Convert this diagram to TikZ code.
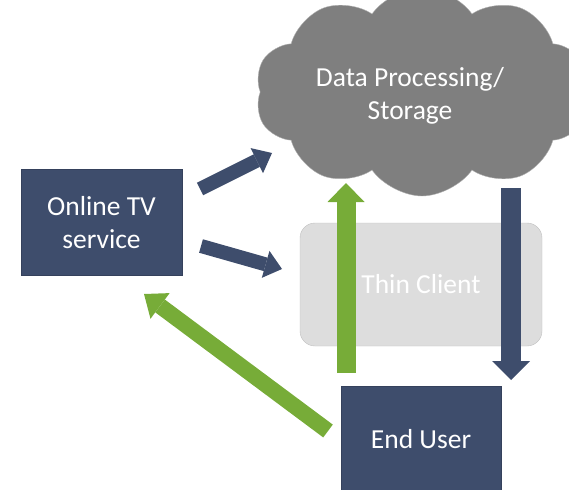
\documentclass[tikz,border=0pt]{standalone}
\usepackage{fontspec}
\setmainfont{Carlito}
\usetikzlibrary{shapes.symbols, arrows.meta}

\definecolor{navy}{RGB}{62,77,108}
\definecolor{leaf}{RGB}{119,172,56}
\definecolor{smoke}{RGB}{127,127,127}
\definecolor{mist}{RGB}{221,221,221}

\tikzset{
  label/.style={text=white, align=center, inner sep=0pt, font=\fontsize{27.5}{33}\selectfont},
  box/.style={label, fill=navy, draw=navy!85!black},
  navyarrow/.style={draw=navy, line width=#1},
  leafarrow/.style={draw=leaf, line width=#1},
}

\begin{document}
\begin{tikzpicture}[x=1pt, y=-1pt]
\useasboundingbox (0,0) rectangle (569,489);
\clip (0,0) rectangle (569,489);

\node[label, cloud, cloud puffs=10, cloud puff arc=110, cloud ignores aspect, fill=smoke, draw=smoke!60!white,
  minimum width=334pt, minimum height=208pt] (cloud) at (422,92) {};
\node[label] (store) at (410,96) {Data Processing/\\Storage};
\node[label, fill=mist, draw=black!25, rounded corners=15pt,
  minimum width=242pt, minimum height=123pt] (thin) at (421,284.5) {Thin Client};
\node[box, minimum width=161pt, minimum height=106pt] (tv) at (101.5,222.5) {Online TV\\service};
\node[box, minimum width=160pt, minimum height=106pt] (user) at (421,439) {End User};

\coordinate (tvup) at (200,189);
\coordinate (cloudin) at (272,153);
\coordinate (tvdown) at (201,246);
\coordinate (thinin) at (282,269);
\coordinate (userup) at (346,373);
\coordinate (cloudout) at (346,183);
\coordinate (cloudtop) at (511,188);
\coordinate (userin) at (511,380);
\coordinate (userback) at (328,431);
\coordinate (tvin) at (144,294);

\draw[navyarrow=14pt, -{Triangle[width=28pt, length=17pt, line width=0pt]}] (tvup) -- (cloudin);
\draw[navyarrow=14pt, -{Triangle[width=28pt, length=17pt, line width=0pt]}] (tvdown) -- (thinin);
\draw[navyarrow=20pt, -{Triangle[width=38pt, length=19pt, line width=0pt]}] (cloudtop) -- (userin);
\draw[leafarrow=19pt, -{Triangle[width=37pt, length=19pt, line width=0pt]}] (userup) -- (cloudout);
\draw[leafarrow=16pt, -{Triangle[width=32pt, length=20pt, line width=0pt]}] (userback) -- (tvin);
\end{tikzpicture}
\end{document}
